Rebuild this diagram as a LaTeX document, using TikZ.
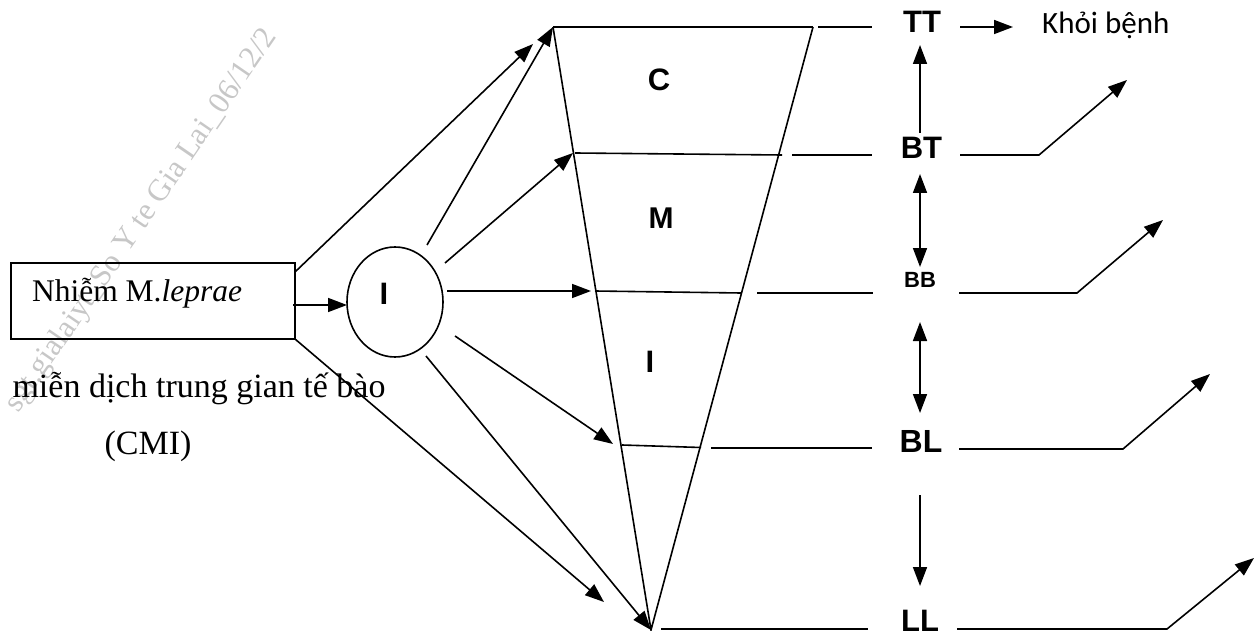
\documentclass[tikz,border=0pt]{standalone}
\usepackage{fontspec}
\setmainfont{Liberation Serif}
\newfontfamily\arialf{Liberation Sans}
\newfontfamily\calf{Carlito}
\usetikzlibrary{arrows.meta,shapes.geometric}
\begin{document}
\begin{tikzpicture}[x=1pt,y=-1pt,
  ln/.style={line width=1.6pt,line cap=butt},
  ar/.style={ln,-{Triangle[length=19pt,width=14pt]}},
  dar/.style={ln,{Triangle[length=19pt,width=14pt]}-{Triangle[length=19pt,width=14pt]}},
  lab/.style={font=\arialf\bfseries,inner sep=0pt},
  serif/.style={inner sep=0pt}]
\useasboundingbox (0,0) rectangle (1255,631);
% watermark
\begin{scope}
\clip (0,0) rectangle (1255,631);
\node[anchor=base west,rotate=55.5,text=black!22,font=\fontsize{31}{36}\selectfont,inner sep=0pt] (wm) at (18,414) {sgt.gialaiyt\_So Y te Gia Lai\_06/12/2};
\end{scope}
% left box and ellipse
\node[draw,line width=1.6pt,minimum width=284pt,minimum height=76pt,inner sep=0pt] (box) at (153,301) {};
\node[serif,font=\fontsize{31.5}{36}\selectfont] (boxt) at (137,293) {Nhiễm M.\textit{leprae}};
\node[serif,font=\fontsize{34}{40}\selectfont,anchor=base] (cmi1) at (199,397) {miễn dịch trung gian tế bào};
\node[serif,font=\fontsize{34}{40}\selectfont] (cmi2) at (148,446) {(CMI)};
\node[draw,ellipse,line width=1.6pt,minimum width=96pt,minimum height=110pt,inner sep=0pt] (ell) at (395,302) {};
\node[lab,font=\arialf\bfseries\fontsize{31}{34}\selectfont] (ellt) at (384,294) {I};
% trapezoid
\coordinate (A) at (553,27);
\coordinate (B) at (813,27);
\coordinate (V) at (651,630);
\draw[ln] (A) -- (B);
\draw[ln] (A) -- (V) -- (B);
\coordinate (bt1) at (575,153); \coordinate (bt2) at (782,155);
\coordinate (bb1) at (595,291); \coordinate (bb2) at (741,293);
\coordinate (bl1) at (622,445); \coordinate (bl2) at (701,447.5);
\draw[ln] (bt1) -- (bt2);
\draw[ln] (bb1) -- (bb2);
\draw[ln] (bl1) -- (bl2);
\node[lab,font=\arialf\bfseries\fontsize{31}{34}\selectfont] (C) at (659,80) {C};
\node[lab,font=\arialf\bfseries\fontsize{30}{34}\selectfont] (M) at (661,218) {M};
\node[lab,font=\arialf\bfseries\fontsize{31}{34}\selectfont] (I2) at (650,362) {I};
% right labels
\node[lab,font=\arialf\bfseries\fontsize{31}{34}\selectfont] (TT) at (922,22) {TT};
\node[lab,font=\arialf\bfseries\fontsize{31}{34}\selectfont] (BT) at (921.5,147.5) {BT};
\node[lab,font=\arialf\bfseries\fontsize{22}{26}\selectfont] (BB) at (920,280) {BB};
\node[lab,font=\arialf\bfseries\fontsize{32}{36}\selectfont] (BL) at (921,441) {BL};
\node[lab,font=\arialf\bfseries\fontsize{31}{34}\selectfont] (LL) at (920,621) {LL};
\node[inner sep=0pt,anchor=west,font=\calf\fontsize{31}{36}\selectfont] (kb) at (1042,25) {Khỏi bệnh};
% outer line segments
\coordinate (tto1) at (818,27); \coordinate (tto2) at (872,27);
\coordinate (bto1) at (792,155); \coordinate (bto2) at (872,155);
\coordinate (bbo1) at (757,293); \coordinate (bbo2) at (873,293);
\coordinate (blo1) at (711,448); \coordinate (blo2) at (872,448);
\coordinate (llo1) at (661,629); \coordinate (llo2) at (868,629);
\draw[ln] (tto1) -- (tto2);
\draw[ln] (bto1) -- (bto2);
\draw[ln] (bbo1) -- (bbo2);
\draw[ln] (blo1) -- (blo2);
\draw[ln] (llo1) -- (llo2);
% right bent arrows
\coordinate (r1a) at (960,155); \coordinate (r1b) at (1039,155); \coordinate (r1c) at (1127,80);
\coordinate (r2a) at (959,293); \coordinate (r2b) at (1077,293); \coordinate (r2c) at (1163,220);
\coordinate (r3a) at (959,449); \coordinate (r3b) at (1123,449); \coordinate (r3c) at (1210,374);
\coordinate (r4a) at (957,629); \coordinate (r4b) at (1167,629); \coordinate (r4c) at (1254,558);
\draw[ar] (r1a) -- (r1b) -- (r1c);
\draw[ar] (r2a) -- (r2b) -- (r2c);
\draw[ar] (r3a) -- (r3b) -- (r3c);
\draw[ar] (r4a) -- (r4b) -- (r4c);
% TT arrow to Khoi benh
\coordinate (t1) at (960,27); \coordinate (t2) at (1013,27);
\draw[ar] (t1) -- (t2);
% vertical arrows
\coordinate (v1a) at (920,133); \coordinate (v1b) at (920,45);
\coordinate (v2a) at (920,174); \coordinate (v2b) at (920,267);
\coordinate (v3a) at (920,322); \coordinate (v3b) at (920,413);
\coordinate (v4a) at (920,495); \coordinate (v4b) at (920,586);
\draw[ar] (v1a) -- (v1b);
\draw[dar] (v2a) -- (v2b);
\draw[dar] (v3a) -- (v3b);
\draw[ar] (v4a) -- (v4b);
% arrows from box
\coordinate (b0a) at (293,305); \coordinate (b0b) at (347,305);
\coordinate (b1a) at (295,272); \coordinate (b1b) at (533,44);
\coordinate (b2a) at (295,339); \coordinate (b2b) at (604,602);
\draw[ar] (b0a) -- (b0b);
\draw[ar] (b1a) -- (b1b);
\draw[ar] (b2a) -- (b2b);
% arrows from ellipse
\coordinate (e1) at (427,245);
\coordinate (e2) at (445,263); \coordinate (e2b) at (573,153);
\coordinate (e3) at (447,291); \coordinate (e3b) at (591,291);
\coordinate (e4) at (455,336); \coordinate (e4b) at (613,444);
\coordinate (e5) at (426,356);
\draw[ar] (e1) -- (A);
\draw[ar] (e2) -- (e2b);
\draw[ar] (e3) -- (e3b);
\draw[ar] (e4) -- (e4b);
\draw[ar] (e5) -- (V);
\end{tikzpicture}
\end{document}
